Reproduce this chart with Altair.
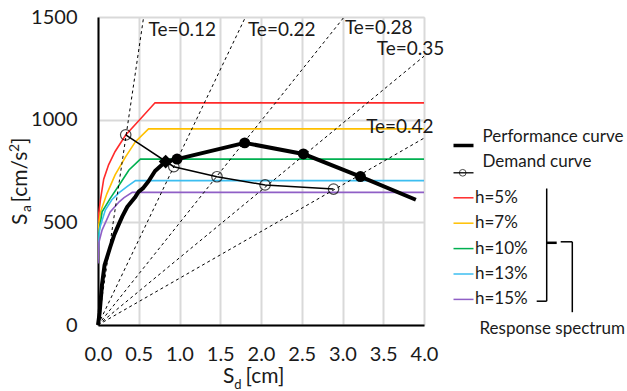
import altair as alt
import pandas as pd

# ---------------- data ----------------
spec_labels = ["h=5%", "h=7%", "h=10%", "h=13%", "h=15%"]
spec_colors = ["#ff2a2a", "#ffc000", "#00b050", "#3cbef0", "#8f5fc6"]

red_sd = [0, 0.01, 0.03, 0.07, 0.13, 0.21, 0.34, 0.50, 0.70, 4.0]
red_sa = [500, 545, 610, 710, 780, 845, 925, 995, 1082, 1082]
yel_sd = [0, 0.01, 0.03, 0.11, 0.21, 0.34, 0.46, 0.62, 4.0]
yel_sa = [440, 490, 550, 640, 731, 820, 893, 955, 955]
grn_sd = [0, 0.01, 0.05, 0.15, 0.26, 0.38, 0.52, 4.0]
grn_sa = [390, 445, 551, 617, 682, 755, 808, 808]
cya_sd = [0, 0.02, 0.09, 0.17, 0.26, 0.36, 0.46, 4.0]
cya_sa = [340, 470, 560, 610, 645, 675, 703, 703]
pur_sd = [0, 0.01, 0.05, 0.15, 0.26, 0.32, 0.42, 4.0]
pur_sa = [300, 400, 462, 551, 600, 620, 646, 646]

perf_sd = [0, 0.02, 0.05, 0.08, 0.15, 0.20, 0.26, 0.30, 0.36, 0.42, 0.46, 0.50,
           0.55, 0.62, 0.70, 0.83, 0.97, 1.80, 2.52, 3.22, 3.90]
perf_sa = [0, 60, 200, 290, 380, 440, 495, 530, 576, 605, 625, 650,
           665, 700, 750, 796, 808, 887, 833, 723, 610]
perf_pt_sd = [0.97, 1.80, 2.52, 3.22]
perf_pt_sa = [808, 887, 833, 723]
pp_sd = [0.83]
pp_sa = [796]

dem_sd = [0.34, 0.93, 1.46, 2.05, 2.89]
dem_sa = [926, 771, 722, 682, 662]

te_labels = ["Te=0.12", "Te=0.22", "Te=0.28", "Te=0.35", "Te=0.42"]
te_end_sd = [0.56, 1.81, 3.02, 4.0, 4.0]
te_end_sa = [1500, 1500, 1500, 1309, 910]
te_lab_sd = [0.62, 1.84, 3.03, 3.42, 3.29]
te_lab_sa = [1437, 1437, 1445, 1343, 962]

x_ticks = [0, 0.5, 1.0, 1.5, 2.0, 2.5, 3.0, 3.5, 4.0]
y_ticks = [0, 500, 1000, 1500]

# ---------------- tables ----------------
curves = [(red_sd, red_sa), (yel_sd, yel_sa), (grn_sd, grn_sa), (cya_sd, cya_sa), (pur_sd, pur_sa)]
spec_df = pd.concat([
    pd.DataFrame({"sd": sd, "sa": sa, "series": lab, "i": range(len(sd))})
    for lab, (sd, sa) in zip(spec_labels, curves)
])
perf_df = pd.DataFrame({"sd": perf_sd, "sa": perf_sa, "i": range(len(perf_sd))})
perf_pt_df = pd.DataFrame({"sd": perf_pt_sd, "sa": perf_pt_sa})
pp_df = pd.DataFrame({"sd": pp_sd, "sa": pp_sa})
dem_df = pd.DataFrame({"sd": dem_sd, "sa": dem_sa, "i": range(len(dem_sd))})
te_df = pd.concat([
    pd.DataFrame({"sd": [0, e_sd], "sa": [0, e_sa], "te": lab, "i": [0, 1]})
    for lab, e_sd, e_sa in zip(te_labels, te_end_sd, te_end_sa)
])
te_lab_df = pd.DataFrame({"sd": te_lab_sd, "sa": te_lab_sa, "label": te_labels})

FONT = "Lato"
TXT = "#1a1a1a"

xs = alt.Scale(domain=[0, 4], nice=False, zero=False)
ys = alt.Scale(domain=[0, 1500], nice=False, zero=False)
x_axis = alt.Axis(values=x_ticks, format=".1f", title=None, grid=True, gridColor="#d9d9d9",
                  gridWidth=2, ticks=False, tickSize=0, domainColor="black", domainWidth=2,
                  labelFont=FONT, labelFontSize=20, labelColor=TXT, labelPadding=19,
                  labelFlush=False, labelOverlap=False)
y_axis = alt.Axis(values=y_ticks, format="d", title=None, grid=True, gridColor="#d9d9d9",
                  gridWidth=2, ticks=False, tickSize=0, domainColor="black", domainWidth=2,
                  labelFont=FONT, labelFontSize=20, labelColor=TXT, labelPadding=21,
                  labelFlush=False, labelOverlap=False)
X = alt.X("sd:Q", scale=xs, axis=x_axis)
Y = alt.Y("sa:Q", scale=ys, axis=y_axis)

spectra = alt.Chart(spec_df).mark_line(strokeWidth=1.6, clip=True).encode(
    x=X, y=Y,
    color=alt.Color("series:N", scale=alt.Scale(domain=spec_labels, range=spec_colors), legend=None),
    order="i:Q",
)
te_lines = alt.Chart(te_df).mark_line(color="black", strokeWidth=1, strokeDash=[3, 3], clip=True).encode(
    x=X, y=Y, detail="te:N", order="i:Q")
te_text = alt.Chart(te_lab_df).mark_text(align="left", baseline="middle", font=FONT,
                                          fontSize=19, color=TXT).encode(x=X, y=Y, text="label:N")
demand = alt.Chart(dem_df).mark_line(color="black", strokeWidth=1.5).encode(x=X, y=Y, order="i:Q")
demand_pts = alt.Chart(dem_df).mark_point(shape="circle", size=110, color="black", strokeWidth=1.2,
                                          filled=False).encode(x=X, y=Y)
perf = alt.Chart(perf_df).mark_line(color="black", strokeWidth=4, strokeJoin="round").encode(
    x=X, y=Y, order="i:Q")
perf_pts = alt.Chart(perf_pt_df).mark_point(shape="circle", size=120, color="black",
                                            filled=True, opacity=1).encode(x=X, y=Y)
pp = alt.Chart(pp_df).mark_point(shape="diamond", size=190, color="black", filled=True,
                                 opacity=1).encode(x=X, y=Y)

one = alt.Data(values=[{"a": 1}])


def rule(x1, x2, y, color="black", w=1.5):
    return alt.Chart(one).mark_rule(color=color, strokeWidth=w).encode(
        x=alt.value(x1), x2=alt.value(x2), y=alt.value(y))


def vrule(x, y1, y2, color="black", w=1.5):
    return alt.Chart(one).mark_rule(color=color, strokeWidth=w).encode(
        x=alt.value(x), y=alt.value(y1), y2=alt.value(y2))


def text(s, x, y, size=17, align="left", baseline="middle", angle=0):
    return alt.Chart(one).mark_text(text=s, align=align, baseline=baseline, font=FONT,
                                    fontSize=size, color=TXT, angle=angle).encode(
        x=alt.value(x), y=alt.value(y))


# legend (positions relative to plot origin)
LX0, LX1 = 355.5, 375.5
legend = [
    rule(LX0, LX1, 128.5, w=3.5),
    text("Performance curve", 384.5, 119.5),
    rule(LX0, LX1, 155.8, w=1.3),
    alt.Chart(one).mark_point(shape="circle", size=45, color="black", strokeWidth=1,
                              filled=False).encode(x=alt.value(364.7), y=alt.value(155.8)),
    text("Demand curve", 384.5, 145.3),
]
for i, (lab, col) in enumerate(zip(spec_labels, spec_colors)):
    yy = 180.8 + i * 25.4
    legend.append(rule(LX0, LX1, yy, color=col, w=1.5))
    legend.append(text(lab, 377, yy))
legend += [
    vrule(448.7, 171.5, 284.2),
    rule(438.7, 448.7, 284.2),
    rule(448.7, 458.7, 225.8, w=2.5),
    rule(462.7, 474.3, 224.8),
    vrule(474.3, 224.8, 295.2),
    text("Response spectrum", 381.5, 312),
]

# axis titles built from pieces (sub/superscripts)
titles = [
    text("S", 125, 366.3, size=21, baseline="alphabetic"),
    text("d", 136.2, 372, size=13, baseline="alphabetic"),
    text("[cm]", 147.5, 366.3, size=21, baseline="alphabetic"),
    text("S", -71.3, 208, size=21, baseline="alphabetic", angle=270),
    text("a", -67.0, 195, size=14, baseline="alphabetic", angle=270),
    text("[cm/s", -71.3, 185.5, size=21, baseline="alphabetic", angle=270),
    text("2", -78.8, 135, size=14, baseline="alphabetic", angle=270),
    text("]", -71.3, 127, size=21, baseline="alphabetic", angle=270),
]

chart = alt.layer(
    spectra, te_lines, demand, demand_pts, perf, perf_pts, pp, te_text, *legend, *titles
).properties(
    width=326, height=308,
    autosize=alt.AutoSizeParams(type="none"),
    padding={"left": 98, "top": 17, "right": 203, "bottom": 66},
).configure_view(stroke="#595959", strokeWidth=1.5).configure(background="white")

chart.save("out.html", embed_options={"renderer": "svg", "actions": False})
